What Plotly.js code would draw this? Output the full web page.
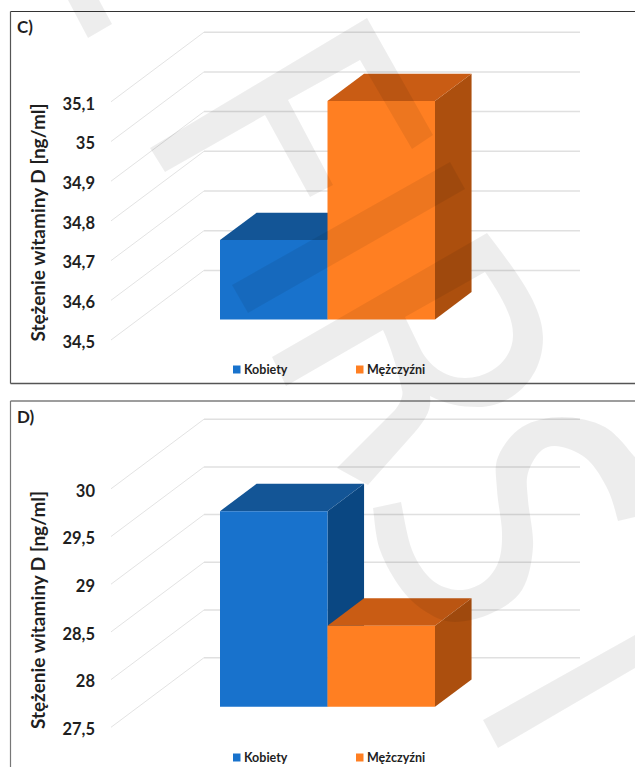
<!DOCTYPE html>
<html>
<head>
<meta charset="utf-8">
<script src="https://cdn.plot.ly/plotly-3.0.1.min.js"></script>
<style>html,body{margin:0;padding:0;background:#fff}#chart{width:635px;height:767px}</style>
</head>
<body>
<div id="chart"></div>
<script>
// Vitamin D concentration by sex, two oblique "3D column" panels.
const categories = ['Kobiety', 'Mężczyźni'];
const axisTitle = 'Stężenie witaminy D [ng/ml]';

const valuesC = [34.7, 35.05];
const ticksC = [34.5, 34.6, 34.7, 34.8, 34.9, 35, 35.1];
const tickLabelsC = ['34,5', '34,6', '34,7', '34,8', '34,9', '35', '35,1'];

const valuesD = [29.55, 28.35];
const ticksD = [27.5, 28, 28.5, 29, 29.5, 30];
const tickLabelsD = ['27,5', '28', '28,5', '29', '29,5', '30'];

const W = 635, H = 767;
const FONT = 'Lato, "Open Sans", sans-serif';
const INK = '#1f1f1f';

const frontColors = ['#1872cc', '#ff7f22'];
const topColors = ['#135596', '#c95c14'];
const sideColors = ['#0a4782', '#ac4f0e'];

// Horizontal scale: one category slot is 107.5 px wide, slot 0 is centred at 273.75 px.
const SLOT = 107.5, SLOT0 = 273.75, AXIS_LEFT = 96;
const u = p => (p - SLOT0) / SLOT;

// Oblique floor: full depth runs 93 px right and 69.6 px up.
const DEPTH_X = 93, DEPTH_Y = 69.6;
const WALL_FRONT = 111, WALL_RIGHT = 580;
const BAR_NEAR = 0.295, BAR_FAR = 0.688;

const traces = [];
const shapes = [];
const annotations = [];
const layout = {
  width: W, height: H, margin: {l: 0, r: 0, t: 0, b: 0},
  paper_bgcolor: '#fff', plot_bgcolor: 'rgba(0,0,0,0)',
  showlegend: false, hovermode: false, barmode: 'overlay',
  font: {family: FONT, color: INK},
  shapes, annotations
};

const fy = px => 1 - px / H;

function addPanel(cfg) {
  const {values, ticks, tickLabels, pxPerUnit, baseY, domTop, domBottom, panelTop, ids, letter, letterY, legendY} = cfg;
  const [sceneId, tickId, barId] = ids;
  const suffix = n => (n === 1 ? '' : String(n));
  const base = ticks[0];
  const rise = DEPTH_Y / pxPerUnit;
  const dxU = DEPTH_X / SLOT;

  // Back wall and floor lines, one polyline per tick.
  const obX = [], obY = [], hzX = [], hzY = [];
  ticks.forEach(t => {
    obX.push(u(WALL_FRONT), u(WALL_FRONT) + dxU, null);
    obY.push(t, t + rise, null);
    hzX.push(u(WALL_FRONT) + dxU, u(WALL_RIGHT), null);
    hzY.push(t + rise, t + rise, null);
  });
  const sceneAxes = {xaxis: 'x' + suffix(sceneId), yaxis: 'y' + suffix(sceneId)};
  const common = {mode: 'lines', hoverinfo: 'skip', showlegend: false, ...sceneAxes};
  traces.push({...common, type: 'scatter', x: obX, y: obY, line: {color: '#e3e3e3', width: 1}});
  traces.push({...common, type: 'scatter', x: hzX, y: hzY, line: {color: '#e0e0e0', width: 1.5}});

  // Top and side faces, projected from each value.
  const shiftX = dxU * (BAR_FAR - BAR_NEAR);
  const near = v => v + rise * BAR_NEAR;
  const far = v => v + rise * BAR_FAR;
  values.forEach((v, i) => {
    const l = i - 0.5, r = i + 0.5;
    traces.push({...common, type: 'scatter', name: categories[i] + ' bok', fill: 'toself', fillcolor: sideColors[i],
      line: {width: 0, color: sideColors[i]},
      x: [r, r + shiftX, r + shiftX, r, r],
      y: [near(base), far(base), far(v), near(v), near(base)]});
    traces.push({...common, type: 'scatter', name: categories[i] + ' wierzch', fill: 'toself', fillcolor: topColors[i],
      line: {width: 0, color: topColors[i]},
      x: [l, l + shiftX, r + shiftX, r, l],
      y: [near(v), far(v), far(v), near(v), near(v)]});
  });

  // Unmarked points that keep the value axis attached to its own subplot.
  traces.push({
    type: 'scatter', mode: 'markers', x: ticks.map(() => u(WALL_FRONT)), y: ticks,
    marker: {opacity: 0, size: 1}, hoverinfo: 'skip', showlegend: false,
    xaxis: 'x' + suffix(tickId), yaxis: 'y' + suffix(tickId)
  });

  // Column fronts: real bars on a hidden axis whose range starts at the floor line.
  traces.push({
    type: 'bar', x: [0, 1], y: values, width: 1,
    marker: {color: frontColors, line: {width: 0}},
    hoverinfo: 'skip', showlegend: false,
    xaxis: 'x' + suffix(barId), yaxis: 'y' + suffix(barId)
  });

  const xRange = [u(AXIS_LEFT), u(W)];
  const xDom = [AXIS_LEFT / W, 1];
  ids.forEach(id => {
    layout['xaxis' + suffix(id)] = {domain: xDom, range: xRange, visible: false, anchor: 'y' + suffix(id), fixedrange: true};
  });

  // Full-height scene for the wall lines and column faces.
  layout['yaxis' + suffix(sceneId)] = {
    domain: [fy(domBottom), fy(panelTop)],
    range: [base - (domBottom - baseY) / pxPerUnit, base + (baseY - panelTop) / pxPerUnit],
    visible: false, anchor: 'x' + suffix(sceneId), fixedrange: true
  };

  // Visible value axis; its domain centres the title on the tick labels.
  layout['yaxis' + suffix(tickId)] = {
    domain: [fy(domBottom), fy(domTop)],
    range: [base - (domBottom - baseY) / pxPerUnit, base + (baseY - domTop) / pxPerUnit],
    anchor: 'x' + suffix(tickId), tickmode: 'array', tickvals: ticks, ticktext: tickLabels,
    tickfont: {family: FONT, size: 16.5, color: INK, weight: 700},
    ticklen: 0, ticklabelshift: 2, showgrid: false, zeroline: false, showline: false, fixedrange: true,
    automargin: false,
    title: {text: axisTitle, font: {family: FONT, size: 19, color: INK, weight: 700}, standoff: 11}
  };

  const floorY = baseY - DEPTH_Y * BAR_NEAR;
  layout['yaxis' + suffix(barId)] = {
    domain: [fy(floorY), fy(panelTop)],
    range: [base, base + (floorY - panelTop) / pxPerUnit],
    visible: false, anchor: 'x' + suffix(barId), fixedrange: true
  };

  // Panel letter.
  annotations.push({
    xref: 'paper', yref: 'paper', x: 15 / W, y: fy(letterY), xanchor: 'left', yanchor: 'middle',
    text: letter, showarrow: false, font: {family: FONT, size: 17, color: INK, weight: 700}
  });

  // Legend row: swatch plus label for each series.
  [[233, 243], [356, 366]].forEach(([sx, tx], i) => {
    shapes.push({
      type: 'rect', xref: 'paper', yref: 'paper', layer: 'below',
      x0: sx / W, x1: (sx + 7.5) / W, y0: fy(legendY + 4), y1: fy(legendY - 4),
      fillcolor: frontColors[i], line: {width: 0}
    });
    annotations.push({
      xref: 'paper', yref: 'paper', x: (tx - 1) / W, y: fy(legendY), xanchor: 'left', yanchor: 'middle',
      text: categories[i], showarrow: false, font: {family: FONT, size: 12.5, color: INK, weight: 700}
    });
  });
}

addPanel({
  values: valuesC, ticks: ticksC, tickLabels: tickLabelsC, pxPerUnit: 397,
  baseY: 340, domTop: 62, domBottom: 383, panelTop: 11, ids: [1, 2, 3],
  letter: 'C)', letterY: 27, legendY: 369.5
});
addPanel({
  values: valuesD, ticks: ticksD, tickLabels: tickLabelsD, pxPerUnit: 95.4,
  baseY: 727.3, domTop: 453, domBottom: 767, panelTop: 401, ids: [4, 5, 6],
  letter: 'D)', letterY: 416, legendY: 757.5
});

// Panel frames, open on the right side of the page.
const frameLine = (x0, y0, x1, y1, color, width) => shapes.push({
  type: 'line', xref: 'paper', yref: 'paper', layer: 'below',
  x0: x0 / W, x1: x1 / W, y0: fy(y0), y1: fy(y1), line: {color, width}
});
frameLine(10.5, 11.5, W, 11.5, '#333333', 1.2);
frameLine(10.5, 11.5, 10.5, 383.5, '#555555', 1.2);
frameLine(10.5, 383.5, W, 383.5, '#555555', 1.4);
frameLine(10.5, 401, W, 401, '#7d7d7d', 1.6);
frameLine(10.5, 401, 10.5, H, '#777777', 1.2);

// Translucent page stamp laid over both panels.
const toPaper = d => d.replace(/(-?[\d.]+),(-?[\d.]+)/g, (m, x, y) => (x / W) + ',' + fy(+y));
const smooth = pts => {
  let d = 'M' + pts[0].join(',');
  for (let i = 0; i < pts.length - 1; i++) {
    const p0 = pts[Math.max(i - 1, 0)], p1 = pts[i], p2 = pts[i + 1], p3 = pts[Math.min(i + 2, pts.length - 1)];
    d += ' C' + (p1[0] + (p2[0] - p0[0]) / 6) + ',' + (p1[1] + (p2[1] - p0[1]) / 6) + ' ' +
      (p2[0] - (p3[0] - p1[0]) / 6) + ',' + (p2[1] - (p3[1] - p1[1]) / 6) + ' ' + p2.join(',');
  }
  return d;
};
const stampOuter = smooth([[373,508],[380,550],[402,590],[428,613],[455,622],[492,613],[522,590],[533,547],[528,500],[528,473],[542,450],[562,447],[588,460],[608,490],[618,521]]);
const stampInner = smooth([[635,457],[605,427],[562,417],[522,427],[498,457],[497,490],[502,533],[498,563],[482,583],[458,590],[432,580],[412,550],[401,502]]);
const stampPaths = [
  'M68,0 L88,38 L112,24 L99,0 Z',
  'M150,148 L367,18 L433,135 L412,149 L360,60 L288,100 L333,185 L310,197 L265,115 L165,172 Z',
  'M232,285 L450,162 L465,189 L248,313 Z',
  'M272,357 L487,233 C515,270 543,305 543,338 C543,380 510,407 478,407 C460,407 445,404 430,396 C432,410 425,420 415,432 L368,485 L337,468 L395,410 C403,400 403,392 402,390 C398,370 390,345 383,330 L286,386 Z ' +
    'M405,317 L485,272 C500,295 513,315 513,335 C513,360 490,378 465,378 C445,378 428,365 420,348 Z',
  stampOuter + ' L635,517 L635,457 ' + stampInner.replace(/^M/, 'L') + ' Z',
  'M483,720 L498,748 L635,668 L635,635 Z'
];
stampPaths.forEach(d => shapes.push({
  type: 'path', xref: 'paper', yref: 'paper', layer: 'above',
  path: toPaper(d), fillcolor: 'rgba(0,0,0,0.07)', line: {width: 0}
}));

Plotly.newPlot('chart', traces, layout, {displayModeBar: false, staticPlot: true});
</script>
</body>
</html>
